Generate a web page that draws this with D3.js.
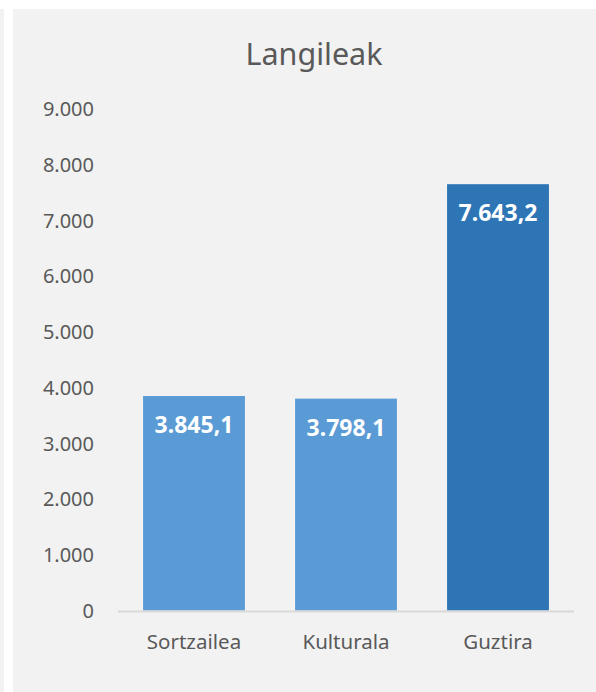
<!DOCTYPE html>
<html>
<head>
<meta charset="utf-8">
<script src="https://cdn.jsdelivr.net/npm/d3@7"></script>
<style>
  html, body { margin: 0; padding: 0; background: #ffffff; }
  svg { display: block; }
</style>
</head>
<body>
<svg id="chart" width="596" height="692"></svg>
<script>
const title = "Langileak";
const categories = ["Sortzailea", "Kulturala", "Guztira"];
const values = [3845.1, 3798.1, 7643.2];
const barColors = ["#5b9bd5", "#5b9bd5", "#2e75b6"];
const yTicks = [0, 1000, 2000, 3000, 4000, 5000, 6000, 7000, 8000, 9000];

const svg = d3.select("#chart");
const font = "'Noto Sans', 'Open Sans', sans-serif";
const textColor = "#595959";

// backgrounds
svg.append("rect").attr("x", 0).attr("y", 9).attr("width", 4).attr("height", 683).attr("fill", "#f2f2f2");
svg.append("rect").attr("x", 13).attr("y", 9).attr("width", 583).attr("height", 683).attr("fill", "#f2f2f2");

const x = d3.scaleBand().domain(categories).range([118, 574]).paddingInner(0.33).paddingOuter(0.165);
const y = d3.scaleLinear().domain([0, 9000]).range([610.5, 108.5]);

const nf = d3.formatLocale({decimal: ",", thousands: ".", grouping: [3], currency: ["", ""]});
const tickFmt = nf.format(",.0f");
const labFmt = nf.format(",.1f");

// title
svg.append("text").attr("x", 314).attr("y", 65)
  .attr("text-anchor", "middle").attr("font-family", font).attr("font-size", 30.5)
  .attr("fill", textColor).text(title);

// y axis labels
const yAxis = d3.axisLeft(y).tickValues(yTicks).tickFormat(tickFmt).tickSize(0).tickPadding(0);
const yg = svg.append("g").attr("transform", "translate(94,0)").call(yAxis);
yg.select(".domain").remove();
yg.selectAll("text").attr("font-family", font).attr("font-size", 20).attr("fill", textColor).attr("dy", "0.35em");

// bars
svg.selectAll("rect.bar").data(values).enter().append("rect")
  .attr("class", "bar")
  .attr("x", (d, i) => x(categories[i]))
  .attr("width", x.bandwidth())
  .attr("y", d => y(d))
  .attr("height", d => y(0) - y(d))
  .attr("fill", (d, i) => barColors[i]);

// x axis
const xAxis = d3.axisBottom(x).tickSize(0).tickPadding(0);
const xg = svg.append("g").attr("transform", "translate(0,611.5)").call(xAxis);
xg.select(".domain").attr("stroke", "#d9d9d9").attr("stroke-width", 2).attr("d", "M118,0H574");
xg.selectAll("text").attr("font-family", font).attr("font-size", 20.5).attr("fill", textColor)
  .attr("y", 37.5).attr("dy", 0);

// data labels
svg.selectAll("text.lab").data(values).enter().append("text")
  .attr("class", "lab")
  .attr("x", (d, i) => x(categories[i]) + x.bandwidth() / 2)
  .attr("y", d => y(d) + 37)
  .attr("text-anchor", "middle")
  .attr("font-family", font).attr("font-size", 23).attr("font-weight", "bold")
  .attr("fill", "#ffffff")
  .text(d => labFmt(d));
</script>
</body>
</html>
